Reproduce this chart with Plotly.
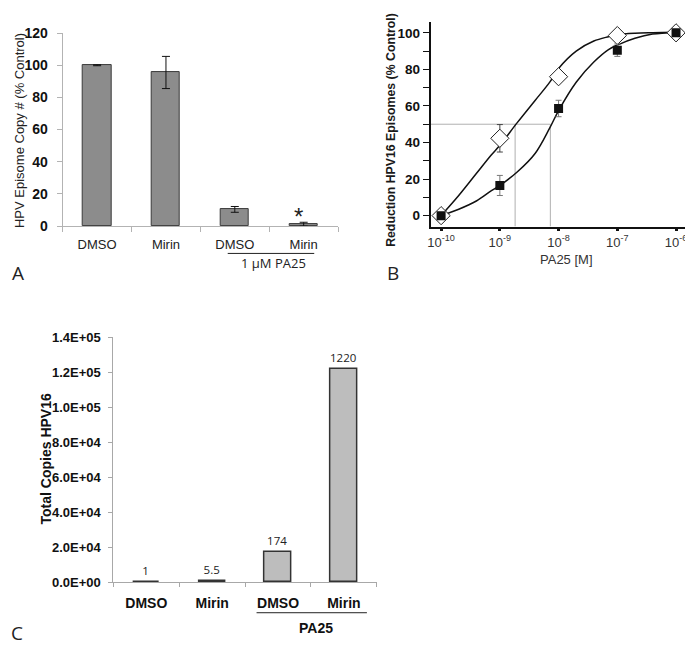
import plotly.graph_objects as go

# The page body has an 8px margin; the figure fills the rest of the window.
PAGE_W, PAGE_H, OFF = 693, 649, 8
W, H = PAGE_W - OFF, PAGE_H - OFF

# ---------------- Panel A data ----------------
a_categories = ["DMSO", "Mirin", "DMSO", "Mirin"]
a_values = [100.0, 95.5, 10.4, 1.2]
a_errors = [0.3, 10.0, 1.8, 1.2]
a_yticks = [0, 20, 40, 60, 80, 100, 120]

# ---------------- Panel B data ----------------
b_log_conc = [-10, -9, -8, -7, -6]                 # log10 PA25 [M]
b_tick_labels = ["10<sup>-10</sup>", "10<sup>-9</sup>", "10<sup>-8</sup>",
                 "10<sup>-7</sup>", "10<sup>-6</sup>"]
b_open_values = [0.0, 42.3, 76.0, 98.5, 100.0]     # open diamonds
b_open_errors = [0.5, 7.5, 1.5, 1.2, 0.5]
b_filled_values = [0.0, 16.5, 58.6, 90.5, 100.0]   # filled squares
b_filled_errors = [0.5, 5.5, 4.5, 3.4, 0.5]
# fitted curves
b_curve_log_conc = [-10, -9.7, -9.4, -9.15, -9.0, -8.7, -8.4, -8.15, -8.0,
                    -7.7, -7.4, -7.15, -7.0, -6.7, -6.4, -6.0]
b_curve_open = [0, 11, 23, 33, 38.5, 51, 63, 73, 80.5,
                90, 95.5, 97.9, 99, 99.8, 100.1, 100.3]
b_curve_filled = [0, 3.5, 8, 13.5, 16.5, 24, 34, 48, 57.5,
                  73, 84, 90.8, 93.3, 97, 99.3, 100.2]
b_ic50_log = [-8.74, -8.14]
b_yticks = [0, 20, 40, 60, 80, 100]
b_xrange = [-10.18, -5.83]
b_yrange = [-6, 106]

# ---------------- Panel C data ----------------
c_categories = ["DMSO", "Mirin", "DMSO", "Mirin"]
c_values = [100, 550, 17400, 122000]
c_fold_labels = ["1", "5.5", "174", "1220"]
c_ytick_vals = [0, 20000, 40000, 60000, 80000, 100000, 120000, 140000]
c_ytick_labels = ["0.0E+00", "2.0E+04", "4.0E+04", "6.0E+04", "8.0E+04",
                  "1.0E+05", "1.2E+05", "1.4E+05"]


def px(x):
    return (x - OFF) / W


def py(y):
    return 1 - (y - OFF) / H


BOLD = dict(family="Liberation Sans, Arial, sans-serif", weight="bold")
REG = "Liberation Sans, Arial, sans-serif"
LETTER = "Open Sans, sans-serif"

fig = go.Figure()

# ---- Panel A ----
a_pos = list(range(len(a_categories)))
fig.add_trace(go.Bar(
    x=a_pos, y=a_values, width=0.41,
    marker=dict(color="#8c8c8c", line=dict(color="#3a3a3a", width=1)),
    error_y=dict(type="data", array=a_errors, color="#111111", thickness=1, width=4),
    xaxis="x", yaxis="y", showlegend=False))

# ---- Panel B ----
fig.add_trace(go.Scatter(x=b_curve_log_conc, y=b_curve_open, mode="lines",
                         line=dict(color="#111111", width=1.5, shape="spline"),
                         xaxis="x2", yaxis="y2", showlegend=False))
fig.add_trace(go.Scatter(x=b_curve_log_conc, y=b_curve_filled, mode="lines",
                         line=dict(color="#111111", width=1.5, shape="spline"),
                         xaxis="x2", yaxis="y2", showlegend=False))
fig.add_trace(go.Scatter(x=b_log_conc, y=b_open_values, mode="markers",
                         marker=dict(symbol="diamond", size=14, color="white",
                                     line=dict(color="#222222", width=1)),
                         error_y=dict(type="data", array=b_open_errors, color="#444444",
                                      thickness=1, width=3),
                         xaxis="x2", yaxis="y2", showlegend=False))
fig.add_trace(go.Scatter(x=b_log_conc, y=b_filled_values, mode="markers",
                         marker=dict(symbol="square", size=9, color="#111111",
                                     line=dict(color="#111111", width=0)),
                         error_y=dict(type="data", array=b_filled_errors, color="#777777",
                                      thickness=1, width=3),
                         xaxis="x2", yaxis="y2", showlegend=False))

# ---- Panel C ----
c_pos = list(range(len(c_categories)))
fig.add_trace(go.Bar(
    x=c_pos, y=c_values, width=0.4, text=c_fold_labels, textposition="outside",
    constraintext="none", cliponaxis=False,
    textfont=dict(family=LETTER, size=11.5, color="#222222"),
    marker=dict(color="#bdbdbd", line=dict(color="#333333", width=1.5)),
    xaxis="x3", yaxis="y3", showlegend=False))

# reference lines in B (IC50)
shapes = [
    dict(type="line", xref="x2", yref="y2", x0=b_xrange[0], x1=max(b_ic50_log),
         y0=50, y1=50, line=dict(color="#b0b0b0", width=1), layer="below"),
]
for v in b_ic50_log:
    shapes.append(dict(type="line", xref="x2", yref="y2", x0=v, x1=v,
                       y0=b_yrange[0], y1=50, line=dict(color="#b0b0b0", width=1),
                       layer="below"))
# group underlines
shapes.append(dict(type="line", xref="paper", yref="paper", x0=px(226), x1=px(313),
                   y0=py(251.5), y1=py(251.5), line=dict(color="#222222", width=1)))
shapes.append(dict(type="line", xref="paper", yref="paper", x0=px(255), x1=px(366),
                   y0=py(620), y1=py(620), line=dict(color="#222222", width=1)))


def note(text, x, y, size, family=REG, color="#222222", angle=0, weight="normal",
         xref="paper"):
    return dict(text=text, x=x, y=py(y), xref=xref, yref="paper", textangle=angle,
                showarrow=False, xanchor="center", yanchor="middle",
                font=dict(family=family, size=size, color=color, weight=weight))


annotations = [
    note("HPV Episome Copy # (% Control)", px(16), 125, 13, angle=-90),
    note("*", 2.93, 214, 24, xref="x"),
    note("1 µM PA25", px(272), 261.5, 13, family=LETTER),
    note("A", px(15), 272, 19, family=LETTER),
    note("Reduction HPV16 Episomes (% Control)", px(390), 125, 12.3,
         color="#1a1a1a", angle=-90, weight="bold"),
    note("PA25 [M]", px(567), 257.5, 13, color="#333333"),
    note("B", px(392), 272, 19, family=LETTER),
    note("Total Copies HPV16", px(43), 462, 14, color="#111111", angle=-90, weight="bold"),
    note("PA25", px(315), 636, 14, color="#111111", weight="bold"),
    note("C", px(14), 641, 19, family=LETTER),
]

gray_axis = "#b3b3b3"

fig.update_layout(
    width=W, height=H, margin=dict(l=0, r=0, t=0, b=0),
    paper_bgcolor="white", plot_bgcolor="white",
    bargap=0, shapes=shapes, annotations=annotations,
    xaxis=dict(domain=[px(60), px(337)], range=[-0.5, len(a_categories) - 0.5],
               tickvals=a_pos, ticktext=a_categories, ticks="", showline=True,
               linecolor=gray_axis, linewidth=1, showgrid=False, zeroline=False,
               tickfont=dict(family=REG, size=13, color="#222222"),
               ticklabelstandoff=6,
               minor=dict(tickmode="array", tickvals=[p - 0.5 for p in a_pos] + [a_pos[-1] + 0.5],
                          ticks="outside", ticklen=5, tickcolor=gray_axis),
               anchor="y"),
    yaxis=dict(domain=[py(223.5), py(25.5)], range=[0, 120], tickvals=a_yticks,
               ticks="outside", ticklen=5, tickcolor=gray_axis, showline=True,
               linecolor=gray_axis, showgrid=False, zeroline=False,
               tickfont=dict(size=14, color="#111111", **BOLD), ticklabelstandoff=6,
               anchor="x"),
    xaxis2=dict(domain=[px(430), px(687)], range=b_xrange, tickvals=b_log_conc,
                ticktext=b_tick_labels, ticks="outside", ticklen=3, tickwidth=3,
                tickcolor="#111111", showline=True, linecolor="#111111", linewidth=1.5,
                showgrid=False, zeroline=False, ticklabelstandoff=0,
                tickfont=dict(family=REG, size=13, color="#333333"), anchor="y2"),
    xaxis4=dict(domain=[px(430), px(687)], range=b_xrange, tickvals=b_log_conc,
                ticks="inside", ticklen=4, tickwidth=3, tickcolor="#111111",
                showticklabels=False, showline=False, showgrid=False, zeroline=False,
                overlaying="x2", anchor="y2"),
    yaxis2=dict(domain=[py(224), py(14)], range=b_yrange, tickvals=b_yticks,
                ticks="outside", ticklen=6, tickcolor="#111111", tickwidth=1,
                minor=dict(dtick=10, tick0=0, ticks="outside", ticklen=6,
                           tickcolor="#111111"),
                showline=True, linecolor="#111111", linewidth=1.5, showgrid=False,
                zeroline=False, tickfont=dict(size=13.5, color="#111111", **BOLD),
                anchor="x2"),
    xaxis3=dict(domain=[px(111), px(376)], range=[-0.5, len(c_categories) - 0.5],
                tickvals=c_pos, ticktext=c_categories, ticks="", showline=True,
                linecolor="#a8a8a8", showgrid=False, zeroline=False,
                tickfont=dict(size=14, color="#111111", **BOLD), ticklabelstandoff=8,
                minor=dict(tickmode="array", tickvals=[p - 0.5 for p in c_pos] + [c_pos[-1] + 0.5],
                           ticks="outside", ticklen=4, tickcolor="#a8a8a8"),
                anchor="y3"),
    yaxis3=dict(domain=[py(589), py(337.3)], range=[0, 140000], tickvals=c_ytick_vals,
                ticktext=c_ytick_labels, ticks="outside", ticklen=4, tickcolor="#a8a8a8",
                showline=True, linecolor="#a8a8a8", showgrid=False, zeroline=False,
                tickfont=dict(size=13, color="#111111", **BOLD), ticklabelstandoff=5,
                anchor="x3"),
)

fig.write_html("out.html")
